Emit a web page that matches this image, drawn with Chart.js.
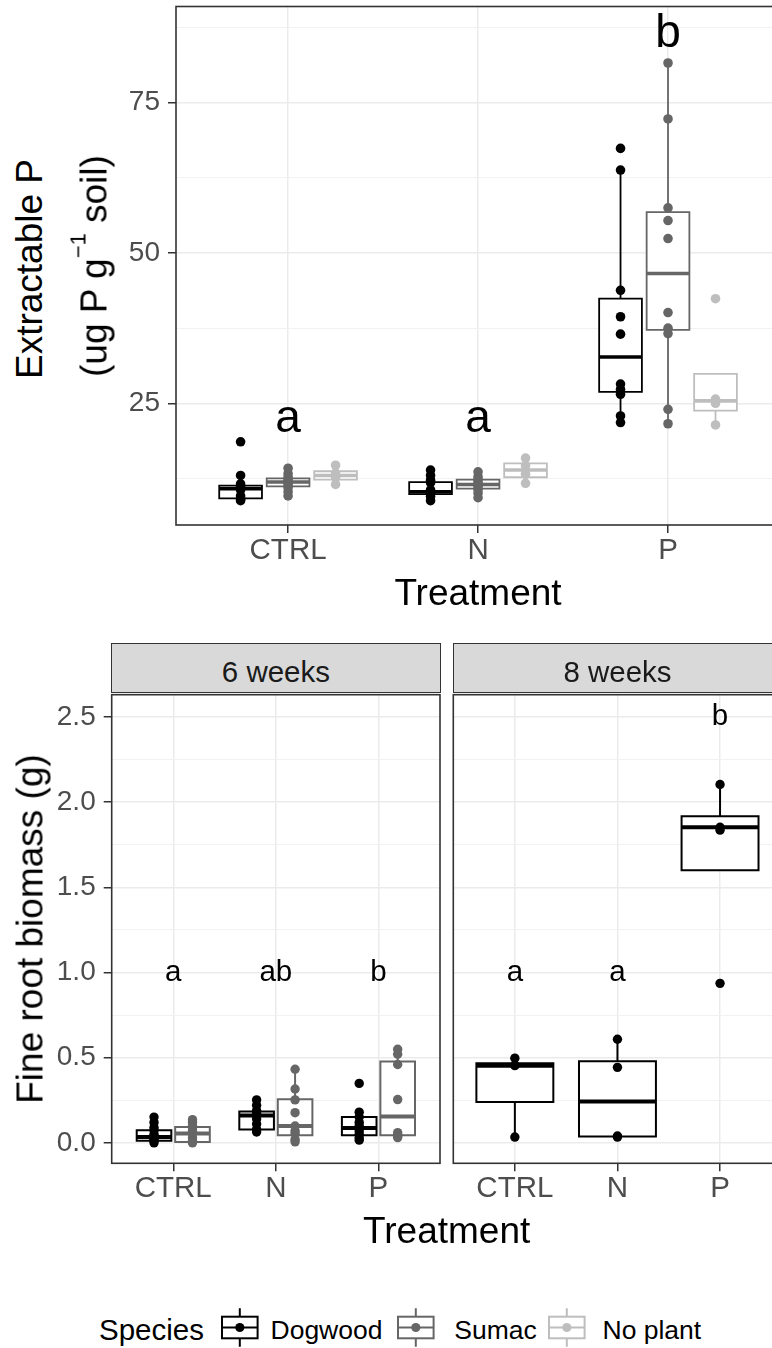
<!DOCTYPE html>
<html>
<head>
<meta charset="utf-8">
<script src="https://cdn.jsdelivr.net/npm/chart.js@4.4.1/dist/chart.umd.min.js"></script>
<style>
html,body{margin:0;padding:0;background:#fff;}
#root{position:relative;width:772px;height:1348px;overflow:hidden;background:#fff;font-family:"Liberation Sans",Arial,Helvetica,sans-serif;}
#root canvas{position:absolute;}
.t{position:absolute;white-space:nowrap;}
.strip{position:absolute;box-sizing:border-box;background:#d9d9d9;border:1.6px solid #333333;}
</style>
</head>
<body>
<div id="root">
  <div class="strip" style="left:110.9px;top:642.5px;width:329.9px;height:50.6px"></div>
  <div class="strip" style="left:452.5px;top:642.5px;width:329.9px;height:50.6px"></div>
  <canvas id="cTop" width="700" height="580" style="left:100px;top:0px"></canvas>
  <canvas id="c6" width="450" height="540" style="left:0px;top:690px"></canvas>
  <canvas id="c8" width="360" height="540" style="left:440px;top:690px"></canvas>
</div>
<script>
// ---------------- DATA ----------------
const treatments = ["CTRL", "N", "P"];
const speciesNames = ["Dogwood", "Sumac", "No plant"];

// Top panel: Extractable P. Box stats = [lower whisker, Q1, median, Q3, upper whisker]
const extP_Dogwood_box = [[8.8, 9.2, 10.8, 11.3, 13.0], [8.8, 9.9, 10.3, 11.9, 13.9], [21.8, 26.9, 32.7, 42.4, 63.8]];
const extP_Sumac_box   = [[9.6, 11.2, 11.9, 12.5, 14.2], [9.3, 10.8, 11.5, 12.3, 13.6], [21.6, 37.2, 46.6, 56.8, 81.6]];
const extP_NoPlant_box = [[11.5, 12.3, 13.0, 13.7, 14.7], [11.7, 12.7, 13.9, 15.0, 15.9], [21.4, 23.8, 25.4, 29.9, 29.9]];
const extP_Dogwood_pts = [
  [18.6, 13.0, 11.6, 11.2, 10.8, 10.6, 9.6, 9.2, 9.0, 8.8],
  [13.9, 13.0, 12.2, 11.8, 10.6, 10.1, 9.9, 9.5, 8.8],
  [67.4, 63.8, 43.8, 39.4, 36.5, 28.2, 27.3, 26.5, 22.9, 21.8]
];
const extP_Sumac_pts = [
  [14.2, 13.3, 12.7, 12.3, 12.0, 11.8, 11.4, 11.0, 10.3, 9.6],
  [13.6, 12.8, 12.3, 11.9, 11.5, 11.2, 10.7, 10.1, 9.3],
  [81.6, 72.3, 57.5, 55.4, 52.4, 40.1, 37.5, 36.6, 24.0, 21.6]
];
const extP_NoPlant_pts = [
  [14.7, 13.4, 12.7, 11.5],
  [15.9, 14.6, 13.2, 11.7],
  [42.4, 25.7, 25.0, 21.4]
];
const extP_letters = ["a", "a", "b"];
const extP_letterY = [22.4, 22.4, 86.4];
const extP_yTicks = [25, 50, 75];
const extP_yTickLabels = ["25", "50", "75"];
const extP_yMinor = [12.5, 37.5, 62.5, 87.5];

// Bottom panels: Fine root biomass (g)
const root6_Dogwood_box = [[0.0, 0.012, 0.035, 0.074, 0.151], [0.064, 0.078, 0.161, 0.184, 0.252], [0.016, 0.045, 0.087, 0.151, 0.180]];
const root6_Sumac_box   = [[0.0, 0.005, 0.055, 0.093, 0.136], [0.006, 0.045, 0.099, 0.256, 0.432], [0.031, 0.045, 0.155, 0.477, 0.549]];
const root6_Dogwood_pts = [
  [0.151, 0.12, 0.09, 0.074, 0.05, 0.035, 0.02, 0.012, 0.0],
  [0.252, 0.22, 0.19, 0.175, 0.161, 0.14, 0.11, 0.08, 0.064],
  [0.349, 0.18, 0.151, 0.12, 0.10, 0.087, 0.07, 0.05, 0.03, 0.016]
];
const root6_Sumac_pts = [
  [0.136, 0.12, 0.10, 0.09, 0.07, 0.055, 0.03, 0.01, 0.0],
  [0.432, 0.316, 0.252, 0.177, 0.099, 0.07, 0.055, 0.02, 0.006],
  [0.549, 0.52, 0.46, 0.254, 0.06, 0.045, 0.04, 0.031]
];
const root6_letters = ["a", "ab", "b"];
const root6_letterY = [1.0, 1.0, 1.0];

const root8_Dogwood_box = [[0.034, 0.24, 0.453, 0.467, 0.497], [0.034, 0.037, 0.242, 0.479, 0.608], [1.835, 1.60, 1.852, 1.916, 2.103]];
const root8_Dogwood_pts = [
  [0.497, 0.453, 0.034],
  [0.608, 0.443, 0.04, 0.034],
  [2.103, 1.852, 1.835, 0.936]
];
const root8_letters = ["a", "a", "b"];
const root8_letterY = [1.0, 1.0, 2.5];

const root_yTicks = [0, 0.5, 1.0, 1.5, 2.0, 2.5];
const root_yTickLabels = ["0.0", "0.5", "1.0", "1.5", "2.0", "2.5"];
const root_yMinor = [0.25, 0.75, 1.25, 1.75, 2.25];

// ---------------- STYLE ----------------
const FONT = '"Liberation Sans", Arial, Helvetica, sans-serif';
const COL = { "Dogwood": "#000000", "Sumac": "#666666", "No plant": "#bebebe" };
Chart.defaults.font.family = FONT;

function buildBoxDatasets(groups, offsets, boxW, lw, pr) {
  const ds = [];
  groups.forEach((g, gi) => {
    const off = offsets[gi];
    const col = COL[g.name];
    g.box.forEach((b, ti) => {
      const xc = ti + 1 + off, hw = boxW / 2;
      const [lo, q1, med, q3, hi] = b;
      const base = { type: 'line', pointRadius: 0, pointHitRadius: 0, borderColor: col, borderWidth: lw,
        tension: 0, order: 2, borderCapStyle: 'butt', borderJoinStyle: 'miter', fill: false };
      ds.push(Object.assign({}, base, {
        data: [{x: xc - hw, y: q1}, {x: xc + hw, y: q1}, {x: xc + hw, y: q3}, {x: xc - hw, y: q3}, {x: xc - hw, y: q1}],
        fill: 'shape', backgroundColor: '#ffffff', borderCapStyle: 'square'
      }));
      if (hi > q3) ds.push(Object.assign({}, base, { data: [{x: xc, y: q3}, {x: xc, y: hi}] }));
      if (lo < q1) ds.push(Object.assign({}, base, { data: [{x: xc, y: lo}, {x: xc, y: q1}] }));
      ds.push(Object.assign({}, base, { data: [{x: xc - hw, y: med}, {x: xc + hw, y: med}], borderWidth: lw * 2, order: 1 }));
      ds.push({ type: 'scatter', data: g.pts[ti].map(v => ({x: xc, y: v})), pointRadius: pr, pointHoverRadius: pr,
        pointBackgroundColor: col, pointBorderWidth: 0, pointBorderColor: col, order: 0 });
    });
  });
  return ds;
}

function xScale(min, max, h) {
  return {
    type: 'linear', min: min, max: max,
    afterBuildTicks: s => { s.ticks = treatments.map((t, i) => ({ value: i + 1 })); },
    afterFit: s => { s.height = h; s.paddingLeft = 0; s.paddingRight = 0; },
    ticks: { callback: v => treatments[Math.round(v) - 1], font: { family: FONT, size: 29.5 }, color: '#4d4d4d',
      padding: 0, autoSkip: false, maxRotation: 0, minRotation: 0 },
    grid: { color: '#ebebeb', lineWidth: 1.5, tickLength: 8, tickColor: '#333333', tickWidth: 1.5, drawTicks: true },
    border: { display: false }
  };
}

function yScale(min, max, major, labels, minor, show, w) {
  const all = major.concat(minor).sort((a, b) => a - b);
  const isMaj = c => c.tick && major.indexOf(c.tick.value) >= 0;
  return {
    type: 'linear', min: min, max: max,
    afterBuildTicks: s => { s.ticks = all.map(v => ({ value: v })); },
    afterFit: s => { s.width = w; s.paddingTop = 0; s.paddingBottom = 0; },
    ticks: { display: show, callback: v => { const i = major.indexOf(v); return i >= 0 ? labels[i] : ''; },
      font: { family: FONT, size: 28 }, color: '#4d4d4d', padding: 8, autoSkip: false },
    grid: { color: c => isMaj(c) ? '#ebebeb' : '#f0f0f0', lineWidth: c => isMaj(c) ? 1.5 : 0.9,
      drawTicks: show, tickLength: show ? 8 : 0, tickColor: c => isMaj(c) ? '#333333' : 'rgba(0,0,0,0)', tickWidth: 1.5 },
    border: { display: false }
  };
}

function makePanel(id, cfg) {
  const lettersPlugin = {
    id: 'letters_' + id,
    afterDatasetsDraw(chart) {
      const ctx = chart.ctx, x = chart.scales.x, y = chart.scales.y;
      ctx.save();
      ctx.fillStyle = '#000000';
      ctx.font = cfg.letterSize + 'px ' + FONT;
      ctx.textAlign = 'center';
      ctx.textBaseline = 'middle';
      cfg.letters.forEach((t, i) => ctx.fillText(t, x.getPixelForValue(i + 1), y.getPixelForValue(cfg.letterY[i])));
      ctx.restore();
    }
  };
  const borderPlugin = {
    id: 'border_' + id,
    afterDraw(chart) {
      const a = chart.chartArea, ctx = chart.ctx;
      ctx.save();
      ctx.strokeStyle = '#333333';
      ctx.lineWidth = 1.6;
      ctx.strokeRect(a.left, a.top, a.right - a.left, a.bottom - a.top);
      ctx.restore();
    }
  };
  return new Chart(document.getElementById(id), {
    type: 'scatter',
    data: { datasets: cfg.datasets },
    options: {
      responsive: false, animation: false, devicePixelRatio: 1, events: [],
      layout: { padding: { left: 0, top: cfg.padTop, right: cfg.padRight, bottom: 0 } },
      plugins: { legend: { display: false }, tooltip: { enabled: false }, title: { display: false } },
      scales: { x: cfg.x, y: cfg.y }
    },
    plugins: [lettersPlugin, borderPlugin]
  });
}

// Top panel
makePanel('cTop', {
  datasets: buildBoxDatasets([
    { name: "Dogwood", box: extP_Dogwood_box, pts: extP_Dogwood_pts },
    { name: "Sumac", box: extP_Sumac_box, pts: extP_Sumac_pts },
    { name: "No plant", box: extP_NoPlant_box, pts: extP_NoPlant_pts }
  ], [-0.25, 0, 0.25], 0.225, 1.8, 4.8),
  letters: extP_letters, letterY: extP_letterY, letterSize: 46,
  padTop: 6.5, padRight: 18,
  x: xScale(0.41, 3.6, 55),
  y: yScale(4.76, 91.0, extP_yTicks, extP_yTickLabels, extP_yMinor, true, 76)
});

// Bottom left: 6 weeks
makePanel('c6', {
  datasets: buildBoxDatasets([
    { name: "Dogwood", box: root6_Dogwood_box, pts: root6_Dogwood_pts },
    { name: "Sumac", box: root6_Sumac_box, pts: root6_Sumac_pts }
  ], [-0.1875, 0.1875], 0.3375, 2, 4.7),
  letters: root6_letters, letterY: root6_letterY, letterSize: 29.5,
  padTop: 2.3, padRight: 10,
  x: xScale(0.4, 3.6, 66.7),
  y: yScale(-0.12, 2.63, root_yTicks, root_yTickLabels, root_yMinor, true, 111.7)
});

// Bottom right: 8 weeks
makePanel('c8', {
  datasets: buildBoxDatasets([
    { name: "Dogwood", box: root8_Dogwood_box, pts: root8_Dogwood_pts }
  ], [0], 0.75, 2, 4.7),
  letters: root8_letters, letterY: root8_letterY, letterSize: 29.5,
  padTop: 2.3, padRight: 18.4,
  x: xScale(0.4, 3.6, 66.7),
  y: yScale(-0.12, 2.63, root_yTicks, root_yTickLabels, root_yMinor, false, 13.3)
});

// ---------------- TEXT (HTML) ----------------
const root = document.getElementById('root');
function addText(html, x, base, size, color, align) {
  const d = document.createElement('div');
  d.className = 't';
  d.innerHTML = html;
  d.style.fontSize = size + 'px';
  d.style.lineHeight = size + 'px';
  d.style.color = color || '#000';
  d.style.top = (base - 0.8465 * size) + 'px';
  d.style.left = x + 'px';
  if (align === 'center') d.style.transform = 'translateX(-50%)';
  root.appendChild(d);
  return d;
}
function addVText(html, cx, cy, size, color) {
  const d = document.createElement('div');
  d.className = 't';
  d.innerHTML = html;
  d.style.fontSize = size + 'px';
  d.style.lineHeight = size + 'px';
  d.style.color = color || '#000';
  d.style.left = cx + 'px';
  d.style.top = cy + 'px';
  d.style.transform = 'translate(-50%,-50%) rotate(-90deg)';
  root.appendChild(d);
  return d;
}

// axis titles
addText('Treatment', 478, 605, 37, '#000', 'center');
addText('Treatment', 446.7, 1243, 37, '#000', 'center');
addVText('Extractable P', 28.9, 269, 37);
addVText('(ug P g<span style="font-size:22px;line-height:0;position:relative;top:-21px">\u22121</span> soil)', 94.2, 266, 37);
addVText('Fine root biomass (g)', 29.9, 929, 37);

// strip labels
addText('6 weeks', 275.9, 681.7, 29.5, '#1a1a1a', 'center');
addText('8 weeks', 617.5, 681.7, 29.5, '#1a1a1a', 'center');

// legend
addText('Species', 99, 1340, 29.5, '#000');
const legendTextX = [270.5, 454.3, 602.5];
const legendKeyX = [222.4, 398.4, 548.5];
speciesNames.forEach((s, i) => {
  addText(s, legendTextX[i], 1339.5, 26.5, '#000');
  const c = document.createElement('canvas');
  c.width = 42; c.height = 46;
  c.style.left = (legendKeyX[i] - 3) + 'px';
  c.style.top = '1305px';
  root.appendChild(c);
  const g = c.getContext('2d');
  const col = COL[s];
  const L = 3, R = 3 + 35.6, T = 11.7, B = 33.3, cx = (L + R) / 2, cy = (T + B) / 2;
  g.strokeStyle = col; g.lineWidth = 2;
  g.beginPath(); g.moveTo(cx, 3.3); g.lineTo(cx, T); g.moveTo(cx, B); g.lineTo(cx, 41.7); g.stroke();
  g.fillStyle = '#fff'; g.fillRect(L, T, R - L, B - T);
  g.strokeRect(L, T, R - L, B - T);
  g.beginPath(); g.moveTo(L, cy); g.lineTo(R, cy); g.stroke();
  g.fillStyle = col; g.beginPath(); g.arc(cx, cy, 4.6, 0, Math.PI * 2); g.fill();
});
</script>
</body>
</html>
